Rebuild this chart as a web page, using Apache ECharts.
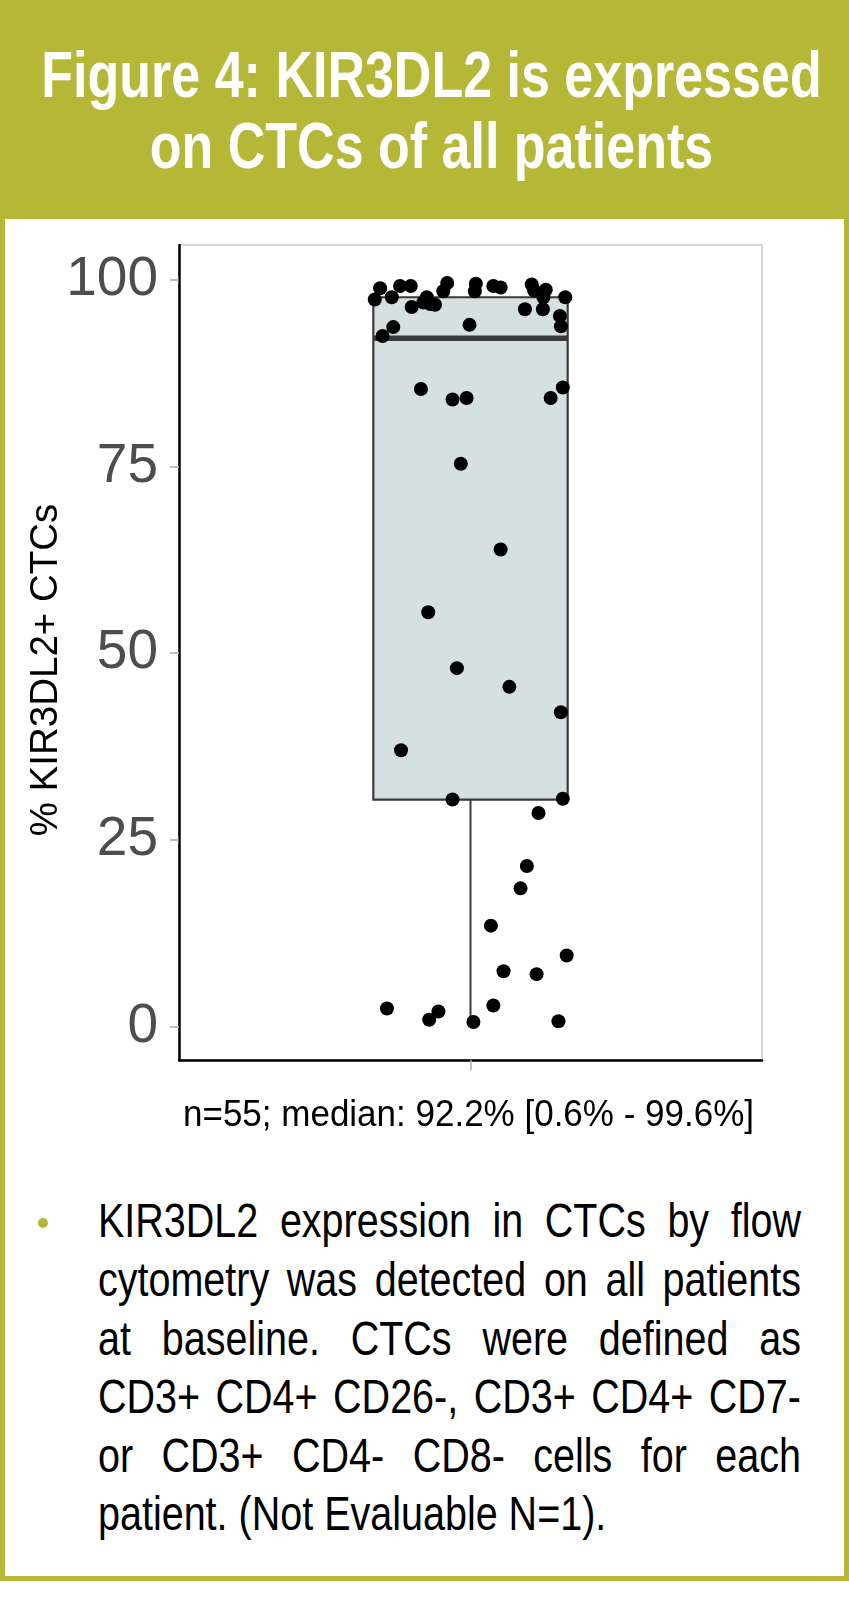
<!DOCTYPE html>
<html>
<head>
<meta charset="utf-8">
<script src="https://cdn.jsdelivr.net/npm/echarts@6/dist/echarts.min.js"></script>
<style>
html,body{margin:0;padding:0;background:#fff;}
#page{position:relative;width:849px;height:1597px;overflow:hidden;font-family:"Liberation Sans",Arial,Helvetica,sans-serif;background:#fff;}
#header{position:absolute;left:0;top:0;width:849px;height:219px;background:#b5b736;}
.tline{position:absolute;left:7px;width:849px;height:52px;text-align:center;color:#fff;font-weight:bold;font-size:52px;line-height:52px;white-space:nowrap;transform-origin:50% 44px;transform:scaleY(1.24);}
.border{position:absolute;background:#b5b736;}
.pl{position:absolute;left:98px;width:703px;height:40px;font-size:39.5px;line-height:40px;white-space:nowrap;color:#000;transform-origin:0 33.7px;transform:scaleY(1.22);}
.pl.j{display:flex;justify-content:space-between;}
#bullet{position:absolute;left:38px;width:10px;height:10px;border-radius:50%;background:#b5b736;}
#chart{position:absolute;left:0;top:0;width:849px;height:1597px;z-index:5;pointer-events:none;}
</style>
</head>
<body>
<div id="page">
  <div id="header"></div>
  <div class="tline" style="top:53px;">Figure 4: KIR3DL2 is expressed</div>
  <div class="tline" style="top:124px;">on CTCs of all patients</div>
  <div class="border" style="left:0;top:219px;width:5px;height:1362px;"></div>
  <div class="border" style="left:844px;top:219px;width:5px;height:1362px;"></div>
  <div class="border" style="left:0;top:1576px;width:849px;height:5px;"></div>
  <div id="bullet"></div>
  <div id="para"></div>
  <div id="chart"></div>
</div>
<script>
// ---- data ----
var categoryLabel = ['KIR3DL2'];
var yTicks = [0, 25, 50, 75, 100];
// horizontal jitter position of each patient (category centre = 1)
var jitterX = [
  0.814, 0.803, 0.838, 0.855, 0.877, 0.952, 0.944, 0.910, 0.917, 0.927,
  0.903, 0.879, 0.841, 0.819, 1.011, 1.009, 1.047, 1.062, 1.126, 1.131,
  1.155, 1.150, 1.195, 1.112, 1.149, 1.184, 1.186, 0.998, 0.898, 0.963,
  0.992, 1.165, 1.190, 0.980, 1.062, 0.913, 0.972, 1.080, 1.186, 0.857,
  0.963, 1.190, 1.140, 1.116, 1.103, 1.042, 1.198, 1.068, 1.136, 0.828,
  0.934, 0.915, 1.047, 1.006, 1.181
];
// % KIR3DL2+ CTCs per patient (n=55)
var pctValues = [
  98.9, 97.4, 97.7, 99.2, 99.2, 99.6, 98.5, 97.7, 96.8, 96.7,
  97.0, 96.4, 93.7, 92.5, 99.5, 98.5, 99.2, 99.0, 99.4, 98.6,
  98.7, 97.7, 97.7, 96.1, 96.1, 95.2, 93.8, 94.0, 85.4, 84.0,
  84.2, 84.2, 85.6, 75.4, 63.9, 55.5, 48.0, 45.5, 42.1, 37.0,
  30.4, 30.5, 28.6, 21.5, 18.5, 13.5, 9.5, 7.4, 7.0, 2.4,
  2.0, 0.9, 2.8, 0.6, 0.7
];
// box statistics: [min, Q1, median, Q3, max]
var boxStats = [0.6, 30.4, 92.2, 97.7, 99.6];

var titleText = 'n=55; median: 92.2% [0.6% - 99.6%]';
var yTitle = '% KIR3DL2+ CTCs';
var paraLines = [
  'KIR3DL2 expression in CTCs by flow',
  'cytometry was detected on all patients',
  'at baseline. CTCs were defined as',
  'CD3+ CD4+ CD26-, CD3+ CD4+ CD7-',
  'or CD3+ CD4- CD8- cells for each',
  'patient. (Not Evaluable N=1).'
];

// ---- paragraph (justified lines) ----
(function(){
  var para = document.getElementById('para');
  var firstBase = 1237, step = 58.6;
  paraLines.forEach(function(line, i){
    var d = document.createElement('div');
    var last = i === paraLines.length - 1;
    d.className = 'pl' + (last ? '' : ' j');
    d.style.top = (firstBase + i * step - 33.7) + 'px';
    if (last) { d.textContent = line; }
    else {
      line.split(' ').forEach(function(w){
        var s = document.createElement('span'); s.textContent = w; d.appendChild(s);
      });
    }
    para.appendChild(d);
  });
  document.getElementById('bullet').style.top = (firstBase - 19) + 'px';
})();

// ---- chart ----
var points = jitterX.map(function(x, i){ return [x, pctValues[i]]; });
var chart = echarts.init(document.getElementById('chart'), null, {renderer: 'canvas'});
var FONT = '"Liberation Sans", Arial, Helvetica, sans-serif';
chart.setOption({
  animation: false,
  backgroundColor: 'transparent',
  grid: {
    left: 179, top: 245, width: 583, height: 815,
    show: true, borderColor: '#c8c8c8', borderWidth: 1.5, backgroundColor: 'transparent'
  },
  xAxis: {
    type: 'value', min: 0.4, max: 1.6,
    axisLine: {show: true, onZero: false, lineStyle: {color: '#000', width: 2.5}},
    axisTick: {show: true, customValues: [1], length: 10, lineStyle: {color: '#aaaaaa', width: 1.5}},
    axisLabel: {show: false},
    splitLine: {show: false}
  },
  yAxis: {
    type: 'value', min: -4.5, max: 104.7,
    axisLine: {show: true, onZero: false, lineStyle: {color: '#000', width: 2.5}},
    axisTick: {show: true, customValues: yTicks, length: 9, lineStyle: {color: '#aaaaaa', width: 1.5}},
    axisLabel: {show: true, customValues: yTicks, margin: 21, fontSize: 55, color: '#4d4d4d', fontFamily: FONT},
    splitLine: {show: false}
  },
  graphic: [
    {type: 'text', x: 46.3, y: 670, rotation: Math.PI / 2,
     style: {text: yTitle, fontSize: 38.5, fontFamily: FONT, fill: '#000', align: 'center', verticalAlign: 'middle'}},
    {type: 'text', x: 468.5, y: 1116, scaleY: 1.08,
     style: {text: titleText, fontSize: 35, fontFamily: FONT, fill: '#000', align: 'center', verticalAlign: 'middle'}}
  ],
  series: [
    {
      type: 'custom',
      name: categoryLabel[0],
      data: [[1].concat(boxStats)],
      encode: {x: 0, y: [1, 2, 3, 4, 5]},
      z: 2,
      renderItem: function(params, api){
        var cx = api.value(0), hw = 0.2;
        var mn = api.value(1), q1 = api.value(2), md = api.value(3), q3 = api.value(4), mx = api.value(5);
        var tl = api.coord([cx - hw, q3]), br = api.coord([cx + hw, q1]);
        var pMin = api.coord([cx, mn]), pQ1 = api.coord([cx, q1]);
        var pQ3 = api.coord([cx, q3]), pMax = api.coord([cx, mx]);
        var mL = api.coord([cx - hw, md]), mR = api.coord([cx + hw, md]);
        var stroke = '#3a3a3a';
        return {type: 'group', children: [
          {type: 'line', shape: {x1: pQ1[0], y1: pQ1[1], x2: pMin[0], y2: pMin[1]}, style: {stroke: stroke, lineWidth: 2}},
          {type: 'line', shape: {x1: pQ3[0], y1: pQ3[1], x2: pMax[0], y2: pMax[1]}, style: {stroke: stroke, lineWidth: 2}},
          {type: 'rect', shape: {x: tl[0], y: tl[1], width: br[0] - tl[0], height: br[1] - tl[1]}, style: {fill: '#d5e0e0', stroke: stroke, lineWidth: 2.2}},
          {type: 'line', shape: {x1: mL[0], y1: mL[1], x2: mR[0], y2: mR[1]}, style: {stroke: stroke, lineWidth: 5.5}}
        ]};
      }
    },
    {
      type: 'scatter',
      data: points,
      symbol: 'circle',
      symbolSize: 14,
      z: 5,
      itemStyle: {color: '#000', opacity: 1}
    }
  ]
});
</script>
</body>
</html>
